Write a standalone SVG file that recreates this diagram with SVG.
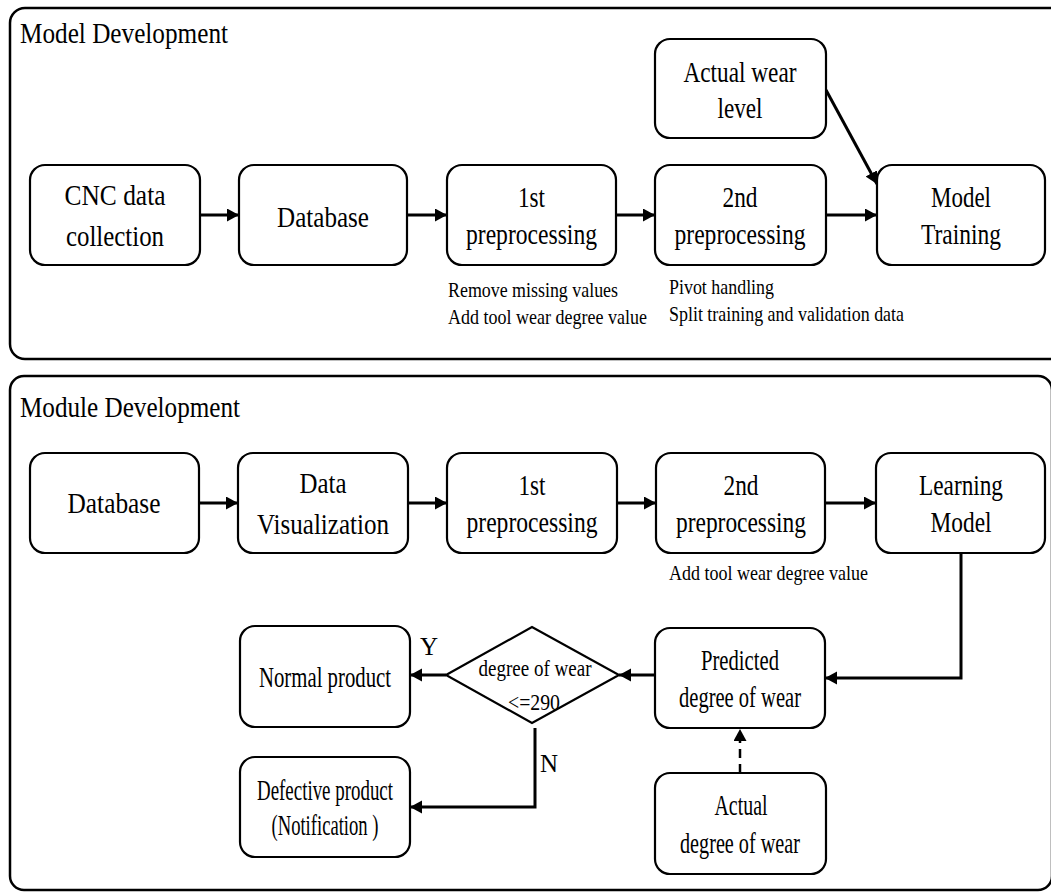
<svg xmlns="http://www.w3.org/2000/svg" width="1051" height="892" viewBox="0 0 1051 892">
<style>
.panel{fill:none;stroke:#000;stroke-width:2.5}
.box{fill:#fff;stroke:#000;stroke-width:2.2}
.t{font-family:"Liberation Serif","Times New Roman",serif;font-size:29px;text-anchor:middle;fill:#000}
.h{font-family:"Liberation Serif","Times New Roman",serif;font-size:29px;fill:#000}
.s{font-family:"Liberation Serif","Times New Roman",serif;font-size:21px;fill:#000}
.d{font-family:"Liberation Serif","Times New Roman",serif;font-size:23px;text-anchor:middle;fill:#000}
.lbl{font-family:"Liberation Serif","Times New Roman",serif;font-size:25px;text-anchor:middle;fill:#000}
.c{fill:none;stroke:#000;stroke-width:3}
.dash{fill:none;stroke:#000;stroke-width:2.5;stroke-dasharray:9 6}
</style>
<defs>
<marker id="ah" markerUnits="userSpaceOnUse" markerWidth="13" markerHeight="14" refX="12" refY="6.5" orient="auto">
<path d="M0,0 L12,6.5 L0,13 z" fill="#000"/>
</marker>
</defs>
<rect width="1051" height="892" fill="#fff"/>

<g id="panel-model">
<rect class="panel" x="10" y="8" width="1070" height="351" rx="15"/>
<text class="h" x="20" y="43" textLength="208" lengthAdjust="spacingAndGlyphs">Model Development</text>
</g>
<g id="panel-module">
<rect class="panel" x="10" y="376" width="1042" height="514" rx="14"/>
<text class="h" x="20" y="417" textLength="220" lengthAdjust="spacingAndGlyphs">Module Development</text>
</g>

<g id="connectors">
<path class="c" d="M200,215 H239" marker-end="url(#ah)"/>
<path class="c" d="M407,215 H447" marker-end="url(#ah)"/>
<path class="c" d="M616,215 H655" marker-end="url(#ah)"/>
<path class="c" d="M826,215 H877" marker-end="url(#ah)"/>
<path class="c" d="M826,90 L877,184" marker-end="url(#ah)"/>
<path class="c" d="M199,503 H238" marker-end="url(#ah)"/>
<path class="c" d="M408,503 H447" marker-end="url(#ah)"/>
<path class="c" d="M617,503 H656" marker-end="url(#ah)"/>
<path class="c" d="M825,503 H876" marker-end="url(#ah)"/>
<path class="c" d="M961,553 V678 H825" marker-end="url(#ah)"/>
<path class="c" d="M655,675 H619" marker-end="url(#ah)"/>
<path class="c" d="M446,675 H410" marker-end="url(#ah)"/>
<path class="c" d="M535,728 V807 H410" marker-end="url(#ah)"/>
<path class="dash" d="M740,773 V729" marker-end="url(#ah)"/>
<text class="lbl" x="429" y="655">Y</text>
<text class="lbl" x="549" y="772">N</text>
</g>

<g id="cnc">
<rect class="box" x="30" y="165" width="170" height="100" rx="15"/>
<text class="t" x="115" y="205" textLength="101" lengthAdjust="spacingAndGlyphs">CNC data</text>
<text class="t" x="115" y="246" textLength="98" lengthAdjust="spacingAndGlyphs">collection</text>
</g>
<g id="db1">
<rect class="box" x="239" y="165" width="168" height="100" rx="15"/>
<text class="t" x="323" y="227" textLength="92" lengthAdjust="spacingAndGlyphs">Database</text>
</g>
<g id="pre1a">
<rect class="box" x="447" y="165" width="169" height="100" rx="15"/>
<text class="t" x="531.5" y="207" textLength="27" lengthAdjust="spacingAndGlyphs">1st</text>
<text class="t" x="531.5" y="244" textLength="131" lengthAdjust="spacingAndGlyphs">preprocessing</text>
<text class="s" x="448" y="297" textLength="170" lengthAdjust="spacingAndGlyphs">Remove missing values</text>
<text class="s" x="448" y="324" textLength="199" lengthAdjust="spacingAndGlyphs">Add tool wear degree value</text>
</g>
<g id="pre2a">
<rect class="box" x="655" y="165" width="171" height="100" rx="15"/>
<text class="t" x="740" y="207" textLength="35" lengthAdjust="spacingAndGlyphs">2nd</text>
<text class="t" x="740" y="244" textLength="131" lengthAdjust="spacingAndGlyphs">preprocessing</text>
<text class="s" x="669" y="294" textLength="105" lengthAdjust="spacingAndGlyphs">Pivot handling</text>
<text class="s" x="669" y="321" textLength="235" lengthAdjust="spacingAndGlyphs">Split training and validation data</text>
</g>
<g id="actual-wear">
<rect class="box" x="655" y="39" width="171" height="99" rx="15"/>
<text class="t" x="740" y="82" textLength="113" lengthAdjust="spacingAndGlyphs">Actual wear</text>
<text class="t" x="740" y="118" textLength="45" lengthAdjust="spacingAndGlyphs">level</text>
</g>
<g id="training">
<rect class="box" x="877" y="165" width="168" height="100" rx="15"/>
<text class="t" x="961" y="207" textLength="60" lengthAdjust="spacingAndGlyphs">Model</text>
<text class="t" x="961" y="244" textLength="80" lengthAdjust="spacingAndGlyphs">Training</text>
</g>

<g id="db2">
<rect class="box" x="30" y="453" width="169" height="100" rx="15"/>
<text class="t" x="114" y="513" textLength="93" lengthAdjust="spacingAndGlyphs">Database</text>
</g>
<g id="viz">
<rect class="box" x="238" y="453" width="170" height="100" rx="15"/>
<text class="t" x="323" y="493" textLength="47" lengthAdjust="spacingAndGlyphs">Data</text>
<text class="t" x="323" y="534" textLength="132" lengthAdjust="spacingAndGlyphs">Visualization</text>
</g>
<g id="pre1b">
<rect class="box" x="447" y="453" width="170" height="100" rx="15"/>
<text class="t" x="532" y="495" textLength="27" lengthAdjust="spacingAndGlyphs">1st</text>
<text class="t" x="532" y="532" textLength="131" lengthAdjust="spacingAndGlyphs">preprocessing</text>
</g>
<g id="pre2b">
<rect class="box" x="656" y="453" width="169" height="100" rx="15"/>
<text class="t" x="741" y="495" textLength="35" lengthAdjust="spacingAndGlyphs">2nd</text>
<text class="t" x="741" y="532" textLength="130" lengthAdjust="spacingAndGlyphs">preprocessing</text>
<text class="s" x="669" y="580" textLength="199" lengthAdjust="spacingAndGlyphs">Add tool wear degree value</text>
</g>
<g id="learning">
<rect class="box" x="876" y="453" width="169" height="100" rx="15"/>
<text class="t" x="961" y="495" textLength="84" lengthAdjust="spacingAndGlyphs">Learning</text>
<text class="t" x="961" y="532" textLength="61" lengthAdjust="spacingAndGlyphs">Model</text>
</g>
<g id="predicted">
<rect class="box" x="655" y="628" width="170" height="100" rx="15"/>
<text class="t" x="740" y="670" textLength="78" lengthAdjust="spacingAndGlyphs">Predicted</text>
<text class="t" x="740" y="707" textLength="122" lengthAdjust="spacingAndGlyphs">degree of wear</text>
</g>
<g id="actual-degree">
<rect class="box" x="655" y="773" width="171" height="101" rx="15"/>
<text class="t" x="741" y="815" textLength="53" lengthAdjust="spacingAndGlyphs">Actual</text>
<text class="t" x="740" y="853" textLength="120" lengthAdjust="spacingAndGlyphs">degree of wear</text>
</g>
<g id="decision">
<polygon class="box" points="446,675 532,627 619,675 532,723"/>
<text class="d" x="535" y="676" textLength="113" lengthAdjust="spacingAndGlyphs">degree of wear</text>
<text class="d" x="534" y="710" textLength="52" lengthAdjust="spacingAndGlyphs">&lt;=290</text>
</g>
<g id="normal">
<rect class="box" x="240" y="626" width="170" height="101" rx="15"/>
<text class="t" x="325" y="687" textLength="132" lengthAdjust="spacingAndGlyphs">Normal product</text>
</g>
<g id="defective">
<rect class="box" x="240" y="757" width="170" height="100" rx="15"/>
<text class="t" x="325" y="800" textLength="136" lengthAdjust="spacingAndGlyphs">Defective product</text>
<text class="t" x="325" y="835" textLength="107" lengthAdjust="spacingAndGlyphs">(Notification )</text>
</g>
</svg>
